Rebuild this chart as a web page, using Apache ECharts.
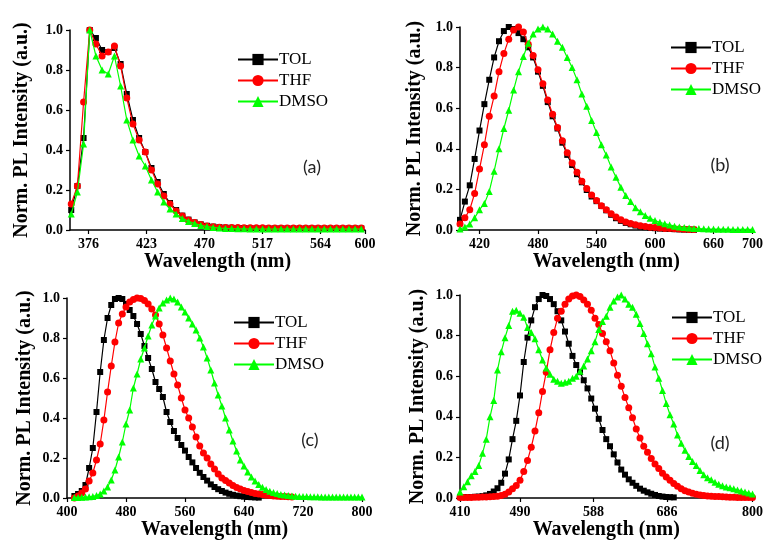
<!DOCTYPE html>
<html><head><meta charset="utf-8">
<script src="https://cdn.jsdelivr.net/npm/echarts@6/dist/echarts.min.js"></script>
<style>html,body{margin:0;padding:0;background:#fff}#c{width:766px;height:541px}</style>
</head><body><div id="c"></div>
<script>
// ---------- Data ----------
const seriesNames = ['TOL', 'THF', 'DMSO'];
const panelLabels = ['(a)', '(b)', '(c)', '(d)'];

// Panel (a)
const xA = [362,367,372,377,382,387,392,397,402,407,412,417,422,427,432,437,442,447,452,457,462,467,472,477,482,487,492,497,502,507,512,517,522,527,532,537,542,547,552,557,562,567,572,577,582,587,592,597];
const tolA = [0.10,0.22,0.46,1.00,0.96,0.90,0.89,0.91,0.83,0.68,0.55,0.46,0.39,0.31,0.24,0.18,0.135,0.10,0.072,0.052,0.038,0.028,0.021,0.017,0.014,0.012,0.011,0.010,0.010,0.009,0.009,0.009,0.008,0.008,0.008,0.008,0.008,0.008,0.008,0.008,0.008,0.008,0.008,0.008,0.008,0.008,0.008,0.008];
const thfA = [0.13,0.22,0.64,1.00,0.93,0.87,0.89,0.92,0.82,0.66,0.53,0.45,0.39,0.30,0.23,0.17,0.13,0.095,0.07,0.05,0.037,0.027,0.02,0.016,0.014,0.013,0.012,0.012,0.011,0.011,0.011,0.011,0.010,0.010,0.010,0.010,0.010,0.010,0.010,0.010,0.010,0.010,0.010,0.010,0.010,0.010,0.010,0.010];
const dmsoA = [0.08,0.19,0.43,1.00,0.87,0.80,0.78,0.87,0.72,0.55,0.45,0.37,0.32,0.25,0.19,0.14,0.105,0.08,0.058,0.043,0.032,0.023,0.017,0.013,0.010,0.008,0.007,0.006,0.006,0.005,0.005,0.005,0.005,0.005,0.005,0.005,0.005,0.005,0.005,0.005,0.005,0.005,0.005,0.005,0.005,0.005,0.005,0.005];
const ticksA = [376,423,470,517,564,600];

// Panel (b)
const xB = [400,405,410,415,420,425,430,435,440,445,450,455,460,465,470,475,480,485,490,495,500,505,510,515,520,525,530,535,540,545,550,555,560,565,570,575,580,585,590,595,600,605,610,615,620,625,630,635,640,645,650,655,660,665,670,675,680,685,690,695,700];
const tolB = [0.05,0.14,0.22,0.35,0.49,0.62,0.74,0.85,0.93,0.98,1.00,0.99,0.97,0.94,0.90,0.85,0.78,0.71,0.63,0.56,0.50,0.43,0.37,0.32,0.275,0.235,0.197,0.165,0.142,0.118,0.097,0.075,0.058,0.045,0.035,0.028,0.022,0.017,0.014,0.011,0.009,0.007,0.006,0.005,0.004,0.003,0.002,0.002,0.001];
const thfB = [0.03,0.06,0.10,0.18,0.30,0.42,0.56,0.66,0.78,0.87,0.94,0.985,1.00,0.975,0.915,0.86,0.79,0.72,0.64,0.57,0.505,0.44,0.38,0.33,0.285,0.24,0.205,0.172,0.145,0.12,0.10,0.08,0.064,0.05,0.04,0.032,0.026,0.021,0.017,0.014,0.012,0.010,0.008,0.007,0.006,0.005,0.004,0.003,0.002];
const dmsoB = [0.005,0.015,0.03,0.06,0.10,0.13,0.19,0.29,0.40,0.50,0.59,0.69,0.78,0.855,0.92,0.965,0.99,1.00,0.99,0.965,0.93,0.90,0.85,0.80,0.74,0.67,0.61,0.54,0.48,0.42,0.37,0.31,0.26,0.21,0.17,0.14,0.11,0.09,0.072,0.058,0.047,0.038,0.031,0.025,0.019,0.015,0.012,0.010,0.008,0.007,0.006,0.005,0.005,0.004,0.004,0.004,0.003,0.003,0.003,0.003,0.003];
const ticksB = [420,480,540,600,660,700];

// Panel (c)
const xC = [410,415,420,425,430,435,440,445,450,455,460,465,470,475,480,485,490,495,500,505,510,515,520,525,530,535,540,545,550,555,560,565,570,575,580,585,590,595,600,605,610,615,620,625,630,635,640,645,650,655,660,665,670,675,680,685,690,695,700,705,710,715,720,725,730,735,740,745,750,755,760,765,770,775,780,785,790,795,800];
const tolC = [0.01,0.02,0.035,0.065,0.15,0.25,0.43,0.63,0.79,0.90,0.965,0.995,1.00,0.995,0.97,0.94,0.91,0.87,0.82,0.76,0.70,0.645,0.58,0.545,0.505,0.43,0.38,0.335,0.30,0.265,0.237,0.205,0.178,0.15,0.126,0.105,0.087,0.068,0.055,0.044,0.035,0.027,0.021,0.016,0.012,0.009,0.007,0.005,0.004,0.003,0.002];
const thfC = [0.0,0.01,0.025,0.045,0.085,0.125,0.19,0.27,0.39,0.53,0.66,0.78,0.875,0.92,0.955,0.98,0.993,1.00,0.997,0.988,0.97,0.945,0.915,0.87,0.815,0.75,0.685,0.62,0.565,0.50,0.44,0.40,0.355,0.305,0.26,0.225,0.20,0.17,0.145,0.12,0.10,0.088,0.075,0.063,0.053,0.045,0.038,0.032,0.027,0.023,0.02,0.017,0.014,0.012,0.010,0.009,0.008,0.007,0.006,0.005];
const dmsoC = [0.002,0.003,0.004,0.005,0.006,0.008,0.012,0.02,0.035,0.055,0.09,0.14,0.205,0.28,0.37,0.44,0.55,0.62,0.695,0.75,0.81,0.865,0.91,0.95,0.975,0.99,1.00,0.995,0.98,0.955,0.93,0.90,0.87,0.84,0.80,0.755,0.70,0.64,0.575,0.515,0.46,0.40,0.34,0.285,0.235,0.19,0.16,0.13,0.105,0.085,0.068,0.054,0.042,0.034,0.027,0.022,0.018,0.015,0.012,0.010,0.009,0.008,0.007,0.007,0.006,0.006,0.006,0.005,0.005,0.005,0.005,0.005,0.005,0.005,0.005,0.005,0.005,0.005,0.005];
const ticksC = [400,480,560,640,720,800];

// Panel (d)
const xD = [410,415,420,425,430,435,440,445,450,455,460,465,470,475,480,485,490,495,500,505,510,515,520,525,530,535,540,545,550,555,560,565,570,575,580,585,590,595,600,605,610,615,620,625,630,635,640,645,650,655,660,665,670,675,680,685,690,695,700,705,710,715,720,725,730,735,740,745,750,755,760,765,770,775,780,785,790,795,800];
const tolD = [0.005,0.005,0.005,0.005,0.006,0.007,0.009,0.013,0.02,0.032,0.048,0.075,0.12,0.19,0.29,0.38,0.505,0.67,0.79,0.875,0.94,0.98,1.00,0.995,0.98,0.955,0.92,0.875,0.82,0.76,0.70,0.655,0.62,0.58,0.54,0.49,0.44,0.39,0.335,0.29,0.255,0.215,0.175,0.14,0.115,0.092,0.075,0.06,0.046,0.036,0.028,0.021,0.015,0.010,0.007,0.005,0.004,0.003];
const thfD = [0.003,0.003,0.003,0.003,0.004,0.004,0.005,0.005,0.006,0.007,0.009,0.012,0.018,0.03,0.045,0.062,0.088,0.13,0.185,0.25,0.33,0.42,0.525,0.62,0.73,0.815,0.885,0.92,0.955,0.98,0.995,1.00,0.993,0.975,0.955,0.925,0.885,0.855,0.81,0.77,0.725,0.665,0.605,0.55,0.495,0.445,0.395,0.34,0.295,0.255,0.225,0.195,0.167,0.145,0.122,0.103,0.087,0.072,0.058,0.046,0.036,0.029,0.023,0.018,0.015,0.012,0.010,0.009,0.008,0.007,0.006,0.005,0.004,0.004,0.003,0.003,0.003,0.003,0.003];
const dmsoD = [0.03,0.055,0.08,0.11,0.13,0.16,0.22,0.29,0.40,0.48,0.63,0.72,0.79,0.85,0.92,0.925,0.91,0.89,0.84,0.815,0.785,0.73,0.68,0.64,0.61,0.585,0.575,0.565,0.57,0.575,0.59,0.60,0.625,0.65,0.685,0.725,0.77,0.83,0.87,0.895,0.94,0.97,0.99,1.00,0.98,0.955,0.94,0.905,0.86,0.81,0.76,0.71,0.645,0.59,0.53,0.465,0.41,0.365,0.31,0.27,0.235,0.205,0.18,0.16,0.135,0.115,0.10,0.09,0.077,0.068,0.06,0.054,0.05,0.045,0.04,0.035,0.03,0.025,0.02];
const ticksD = [410,490,588,686,800];

const yTicks = [0, 0.2, 0.4, 0.6, 0.8, 1.0];

// ---------- Build ----------
const colors = ['#000000', '#ff0000', '#00ff00'];
const symbols = ['rect', 'circle', 'triangle'];
const symSizes = [6, 7, 7];
const panels = [
  {x: xA, ys: [tolA, thfA, dmsoA], min: 361, max: 600, ticks: ticksA,
   grid: {left: 70, top: 30, width: 295, height: 200}, yGap: 38,
   legend: {left: 232, top: 46}, label: [312, 167]},
  {x: xB, ys: [tolB, thfB, dmsoB], min: 400, max: 700, ticks: ticksB,
   grid: {left: 460, top: 27, width: 293, height: 203}, yGap: 35,
   legend: {left: 665, top: 34}, label: [720, 165]},
  {x: xC, ys: [tolC, thfC, dmsoC], min: 400, max: 800, ticks: ticksC,
   grid: {left: 67, top: 298, width: 295, height: 202}, yGap: 32,
   legend: {left: 228, top: 309}, label: [310, 440]},
  {x: xD, ys: [tolD, thfD, dmsoD], min: 410, max: 800, ticks: ticksD,
   grid: {left: 460, top: 295, width: 294, height: 203}, yGap: 32,
   legend: {left: 666, top: 304}, label: [720, 443]}
];

const serif = 'Liberation Serif';
const grids = [], xAxes = [], yAxes = [], series = [], legends = [], graphics = [];
panels.forEach((p, i) => {
  grids.push(Object.assign({containLabel: false}, p.grid));
  xAxes.push({
    type: 'value', gridIndex: i, min: p.min, max: p.max,
    name: 'Wavelength (nm)', nameLocation: 'middle', nameGap: 22,
    nameTextStyle: {fontFamily: serif, fontWeight: 'bold', fontSize: 20, color: '#000'},
    axisLine: {show: true, onZero: false, lineStyle: {color: '#000', width: 1.5}},
    axisTick: {show: true, length: 4, inside: false, customValues: p.ticks, lineStyle: {color: '#000', width: 1.2}},
    axisLabel: {customValues: p.ticks, margin: 7, fontFamily: serif, fontWeight: 'bold', fontSize: 14, color: '#000'},
    splitLine: {show: false}
  });
  yAxes.push({
    type: 'value', gridIndex: i, min: 0, max: 1.0, interval: 0.2,
    name: 'Norm. PL Intensity (a.u.)', nameLocation: 'middle', nameGap: p.yGap, nameRotate: 90,
    nameTextStyle: {fontFamily: serif, fontWeight: 'bold', fontSize: 20, color: '#000'},
    axisLine: {show: true, lineStyle: {color: '#000', width: 1.5}},
    axisTick: {show: true, length: 4, lineStyle: {color: '#000', width: 1.2}},
    axisLabel: {margin: 7, fontFamily: serif, fontWeight: 'bold', fontSize: 14, color: '#000',
      formatter: v => v.toFixed(1)},
    splitLine: {show: false}
  });
  p.ys.forEach((ys, k) => {
    const data = ys.map((v, j) => [p.x[j], v]);
    series.push({
      type: 'line', name: seriesNames[k], xAxisIndex: i, yAxisIndex: i,
      data: data, symbol: symbols[k], symbolSize: symSizes[k], showAllSymbol: true,
      color: colors[k], lineStyle: {color: colors[k], width: 1.2},
      itemStyle: {color: colors[k]}, animation: false, z: 2 + k
    });
  });
  legends.push({
    orient: 'vertical', left: p.legend.left, top: p.legend.top,
    itemWidth: 40, itemHeight: 14, itemGap: 4, selectedMode: false,
    data: seriesNames,
    textStyle: {fontFamily: serif, fontSize: 17, color: '#000', padding: [0, 0, 0, -4]}
  });
  graphics.push({
    type: 'text', x: p.label[0], y: p.label[1],
    style: {text: panelLabels[i], font: '18px Lato, "Open Sans", sans-serif', fill: '#222',
      textAlign: 'center', textVerticalAlign: 'middle'}
  });
});

const chart = echarts.init(document.getElementById('c'), null, {renderer: 'canvas'});
chart.setOption({
  backgroundColor: '#fff', animation: false,
  grid: grids, xAxis: xAxes, yAxis: yAxes, series: series, legend: legends, graphic: graphics
});
</script></body></html>
